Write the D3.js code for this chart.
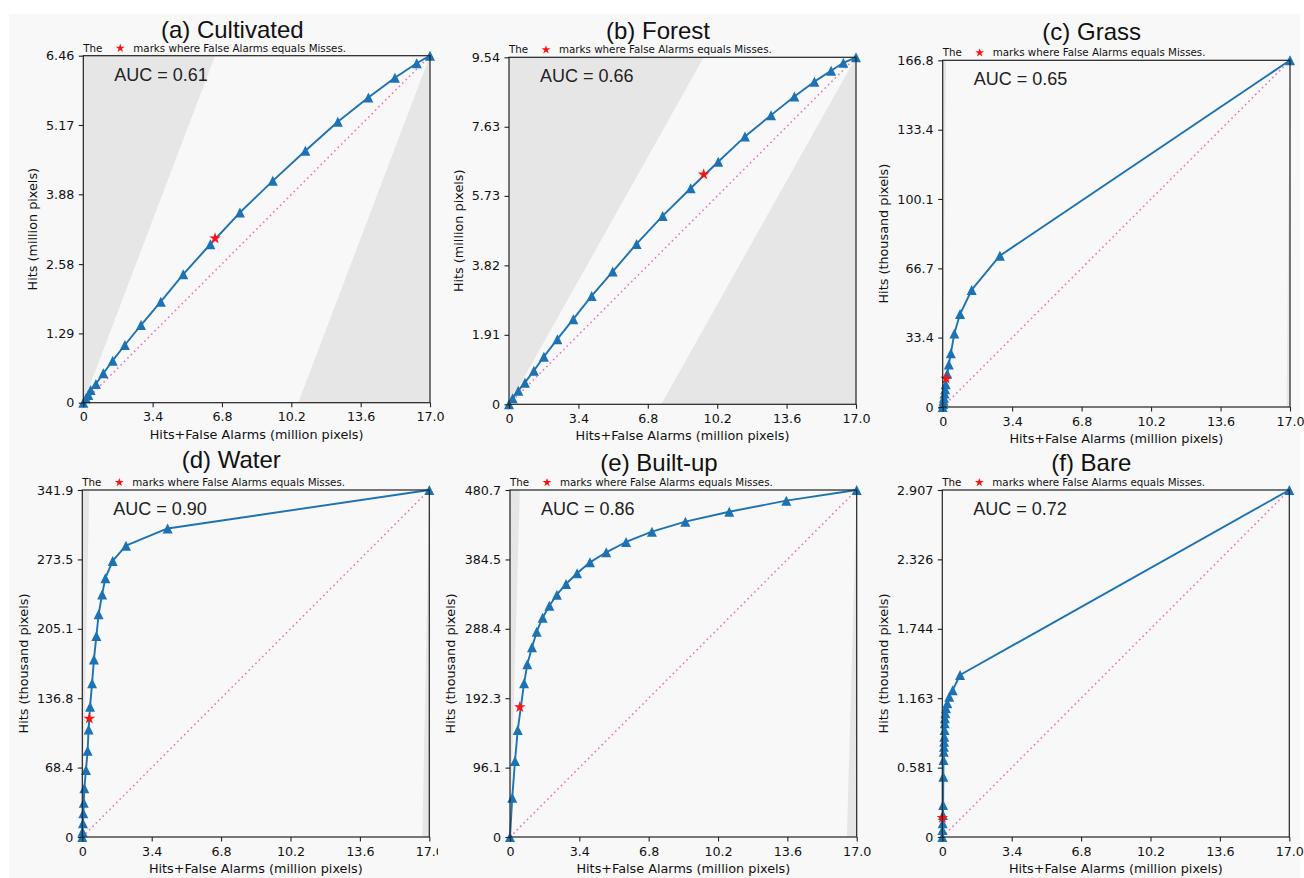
<!DOCTYPE html>
<html>
<head>
<meta charset="utf-8">
<script src="https://cdn.jsdelivr.net/npm/d3@7"></script>
<style>
  body { margin: 0; background: #fff; }
  svg text { fill: #111; }
  .tick text { font-family: "DejaVu Sans", sans-serif; font-size: 12.7px; fill: #111; }
  .tick line { stroke: #222; stroke-width: 1.1; }
</style>
</head>
<body>
<div id="vis"></div>
<script>

// Data ----------------------------------------------------------------------

var titles = ["(a) Cultivated", "(b) Forest", "(c) Grass", "(d) Water", "(e) Built-up", "(f) Bare"];
var yLabels = ["Hits (million pixels)", "Hits (million pixels)", "Hits (thousand pixels)",
               "Hits (thousand pixels)", "Hits (thousand pixels)", "Hits (thousand pixels)"];
var xLabel = "Hits+False Alarms (million pixels)";
var aucs = ["0.61", "0.66", "0.65", "0.90", "0.86", "0.72"];
var note = "marks where False Alarms equals Misses.";

var xTicks = ["0", "3.4", "6.8", "10.2", "13.6", "17.0"];
var yTicksA = ["0", "1.29", "2.58", "3.88", "5.17", "6.46"];
var yTicksB = ["0", "1.91", "3.82", "5.73", "7.63", "9.54"];
var yTicksC = ["0", "33.4", "66.7", "100.1", "133.4", "166.8"];
var yTicksD = ["0", "68.4", "136.8", "205.1", "273.5", "341.9"];
var yTicksE = ["0", "96.1", "192.3", "288.4", "384.5", "480.7"];
var yTicksF = ["0", "0.581", "1.163", "1.744", "2.326", "2.907"];

// hits unit expressed in million pixels (x axis unit)
var hitUnits = [1, 1, 0.001, 0.001, 0.001, 0.001];

var cultivatedX = [0, 0.13, 0.245, 0.36, 0.62, 0.98, 1.44, 2.04, 2.83, 3.80, 4.90, 6.23, 7.68, 9.29, 10.89, 12.48, 13.98, 15.28, 16.35, 17.0];
var cultivatedY = [0, 0.082, 0.143, 0.236, 0.348, 0.547, 0.782, 1.074, 1.446, 1.88, 2.39, 2.95, 3.54, 4.13, 4.69, 5.23, 5.68, 6.05, 6.32, 6.46];

var forestX = [0, 0.18, 0.456, 0.78, 1.22, 1.71, 2.37, 3.15, 4.05, 5.08, 6.25, 7.53, 8.90, 10.25, 11.56, 12.84, 13.98, 14.96, 15.78, 16.38, 17.0];
var forestY = [0, 0.165, 0.374, 0.594, 0.924, 1.31, 1.79, 2.34, 2.98, 3.65, 4.41, 5.18, 5.94, 6.67, 7.36, 7.95, 8.46, 8.87, 9.17, 9.39, 9.54];

var grassX = [0, 0.02, 0.04, 0.06, 0.09, 0.12, 0.15, 0.22, 0.30, 0.40, 0.57, 0.85, 1.42, 2.80, 17.0];
var grassY = [0, 1.5, 3.0, 4.5, 6.5, 8.5, 11.0, 16.0, 20.5, 25.8, 35.4, 44.7, 56.3, 72.8, 166.8];

var waterX = [0, 0.01, 0.03, 0.05, 0.07, 0.10, 0.18, 0.26, 0.31, 0.38, 0.48, 0.57, 0.69, 0.80, 0.97, 1.13, 1.49, 2.14, 4.18, 17.0];
var waterY = [0, 5.2, 13.5, 23.3, 33.8, 48, 66, 85, 106, 128.4, 151.4, 175, 198, 219.4, 239, 255, 272, 287, 304, 341.9];

var builtX = [0, 0.11, 0.245, 0.38, 0.69, 0.85, 1.08, 1.31, 1.60, 1.93, 2.30, 2.75, 3.29, 3.92, 4.72, 5.69, 6.96, 8.60, 10.75, 13.55, 17.0];
var builtY = [0, 54.5, 105.3, 148.2, 212.9, 239.2, 262.8, 284.4, 303.8, 320.4, 335.7, 350.5, 365.3, 380.5, 394.4, 408.7, 423, 436.8, 450.6, 465.9, 480.7];

var bareX = [0, 0.01, 0.02, 0.03, 0.04, 0.05, 0.06, 0.07, 0.08, 0.09, 0.10, 0.11, 0.12, 0.13, 0.15, 0.18, 0.245, 0.34, 0.51, 0.87, 17.0];
var bareY = [0, 0.059, 0.115, 0.184, 0.268, 0.505, 0.645, 0.714, 0.756, 0.798, 0.840, 0.896, 0.952, 0.994, 1.036, 1.078, 1.12, 1.175, 1.23, 1.357, 2.907];

// star: where False Alarms equals Misses
var starX = [6.46, 9.54, 0.167, 0.342, 0.481, 0.003];
var starY = [3.06, 6.32, 13.6, 116.6, 180, 0.16];


// Setup ---------------------------------------------------------------------

var width = 1304, height = 878;

var layout = [
  {left: 83.3, top: 55.7, w: 346.7, h: 347, titleY: 38.3},
  {left: 509, top: 57.3, w: 347, h: 347, titleY: 39.3},
  {left: 942.7, top: 60.3, w: 347.3, h: 346.7, titleY: 40},
  {left: 82.3, top: 490, w: 347, h: 347, titleY: 468.3, clipRight: 438},
  {left: 510, top: 490, w: 346.7, h: 347, titleY: 470.7},
  {left: 942.3, top: 490, w: 347, h: 347, titleY: 470.7}
];

var xs = [cultivatedX, forestX, grassX, waterX, builtX, bareX];
var ys = [cultivatedY, forestY, grassY, waterY, builtY, bareY];
var yTicks = [yTicksA, yTicksB, yTicksC, yTicksD, yTicksE, yTicksF];

var lineColor = "#1c72b2",
    shadeColor = "#e6e6e6",
    bgColor = "#f8f8f8";

// matplotlib-like "^" marker
var triangleUp = {
  draw: function(ctx, size) {
    var r = Math.sqrt(size) / 2;
    ctx.moveTo(0, -r);
    ctx.lineTo(r, r);
    ctx.lineTo(-r, r);
    ctx.closePath();
  }
};

var svg = d3.select("#vis").append("svg")
  .attr("width", width)
  .attr("height", height);

svg.append("rect")
  .attr("x", 9).attr("y", 14)
  .attr("width", 1291).attr("height", height - 14)
  .attr("fill", bgColor);


// Draw panels ---------------------------------------------------------------

layout.forEach(function(L, i) {

  var g = svg.append("g");

  if (L.clipRight) {
    svg.append("clipPath").attr("id", "clip" + i)
      .append("rect").attr("x", 0).attr("y", L.top - 80)
      .attr("width", L.clipRight).attr("height", L.h + 140);
    g.attr("clip-path", "url(#clip" + i + ")");
  }

  var yMax = +yTicks[i][yTicks[i].length - 1];
  var pm = yMax * hitUnits[i];

  var x = d3.scaleLinear().domain([0, 17]).range([L.left, L.left + L.w]);
  var y = d3.scaleLinear().domain([0, yMax]).range([L.top + L.h, L.top]);

  var path = d3.line()
    .x(function(d) { return x(d[0]); })
    .y(function(d) { return y(d[1]); });

  // shaded regions outside the possible TOC space
  g.append("path")
    .attr("d", path([[0, 0], [pm, yMax], [0, yMax]]) + "Z")
    .attr("fill", shadeColor);
  g.append("path")
    .attr("d", path([[17 - pm, 0], [17, yMax], [17, 0]]) + "Z")
    .attr("fill", shadeColor);

  // random model diagonal
  g.append("path")
    .attr("d", path([[0, 0], [17, yMax]]))
    .attr("fill", "none")
    .attr("stroke", "#e377c2")
    .attr("stroke-width", 1.6)
    .attr("stroke-dasharray", "1.6,3.2");

  // TOC curve
  var pts = xs[i].map(function(v, j) { return [v, ys[i][j]]; });

  g.append("path")
    .attr("d", path(pts))
    .attr("fill", "none")
    .attr("stroke", lineColor)
    .attr("stroke-width", 1.9)
    .attr("stroke-linejoin", "round");

  g.selectAll(".marker")
    .data(pts)
    .enter()
    .append("path")
    .attr("class", "marker")
    .attr("transform", function(d) { return "translate(" + x(d[0]) + "," + y(d[1]) + ")"; })
    .attr("d", d3.symbol().type(triangleUp).size(100))
    .attr("fill", lineColor);

  g.append("path")
    .attr("transform", "translate(" + x(starX[i]) + "," + y(starY[i]) + ")")
    .attr("d", d3.symbol().type(d3.symbolStar).size(42))
    .attr("fill", "#ff1010");

  // frame
  g.append("rect")
    .attr("x", L.left).attr("y", L.top)
    .attr("width", L.w).attr("height", L.h)
    .attr("fill", "none")
    .attr("stroke", "#222")
    .attr("stroke-width", 1.2);

  // axes
  var xAxis = d3.axisBottom(x)
    .tickValues(xTicks.map(Number))
    .tickFormat(function(d, k) { return xTicks[k]; })
    .tickSize(4.5)
    .tickPadding(4.5);

  var yAxis = d3.axisLeft(y)
    .tickValues(yTicks[i].map(Number))
    .tickFormat(function(d, k) { return yTicks[i][k]; })
    .tickSize(4.5)
    .tickPadding(4.5);

  var gx = g.append("g")
    .attr("transform", "translate(0," + (L.top + L.h) + ")")
    .call(xAxis);
  gx.select(".domain").remove();
  gx.selectAll("text").attr("dy", "0.75em");

  var gy = g.append("g")
    .attr("transform", "translate(" + L.left + ",0)")
    .call(yAxis);
  gy.select(".domain").remove();

  // labels
  g.append("text")
    .attr("x", L.left + L.w / 2)
    .attr("y", L.top + L.h + 36)
    .attr("text-anchor", "middle")
    .style("font-family", "DejaVu Sans, sans-serif")
    .style("font-size", "12.8px")
    .text(xLabel);

  var tickLeft = gy.node().getBBox().x + L.left;
  g.append("text")
    .attr("transform", "translate(" + (tickLeft - 9.2) + "," + (L.top + L.h / 2) + ") rotate(-90)")
    .attr("text-anchor", "middle")
    .style("font-family", "DejaVu Sans, sans-serif")
    .style("font-size", "12.8px")
    .text(yLabels[i]);

  g.append("text")
    .attr("x", L.left + 149)
    .attr("y", L.titleY)
    .attr("text-anchor", "middle")
    .style("font-family", "Liberation Sans, Arial, sans-serif")
    .style("font-size", "24px")
    .text(titles[i]);

  g.append("text")
    .attr("x", L.left + 31)
    .attr("y", L.top + 25)
    .style("font-family", "Liberation Sans, Arial, sans-serif")
    .style("font-size", "18px")
    .style("fill", "#222")
    .text("AUC = " + aucs[i]);

  // note above the plot
  g.append("text")
    .attr("x", L.left)
    .attr("y", L.top - 4)
    .style("font-family", "DejaVu Sans, sans-serif")
    .style("font-size", "10.3px")
    .text("The");

  g.append("path")
    .attr("transform", "translate(" + (L.left + 37) + "," + (L.top - 7.5) + ")")
    .attr("d", d3.symbol().type(d3.symbolStar).size(24))
    .attr("fill", "#ff1010");

  g.append("text")
    .attr("x", L.left + 50)
    .attr("y", L.top - 4)
    .style("font-family", "DejaVu Sans, sans-serif")
    .style("font-size", "10.3px")
    .text(note);

});

</script>
</body>
</html>
